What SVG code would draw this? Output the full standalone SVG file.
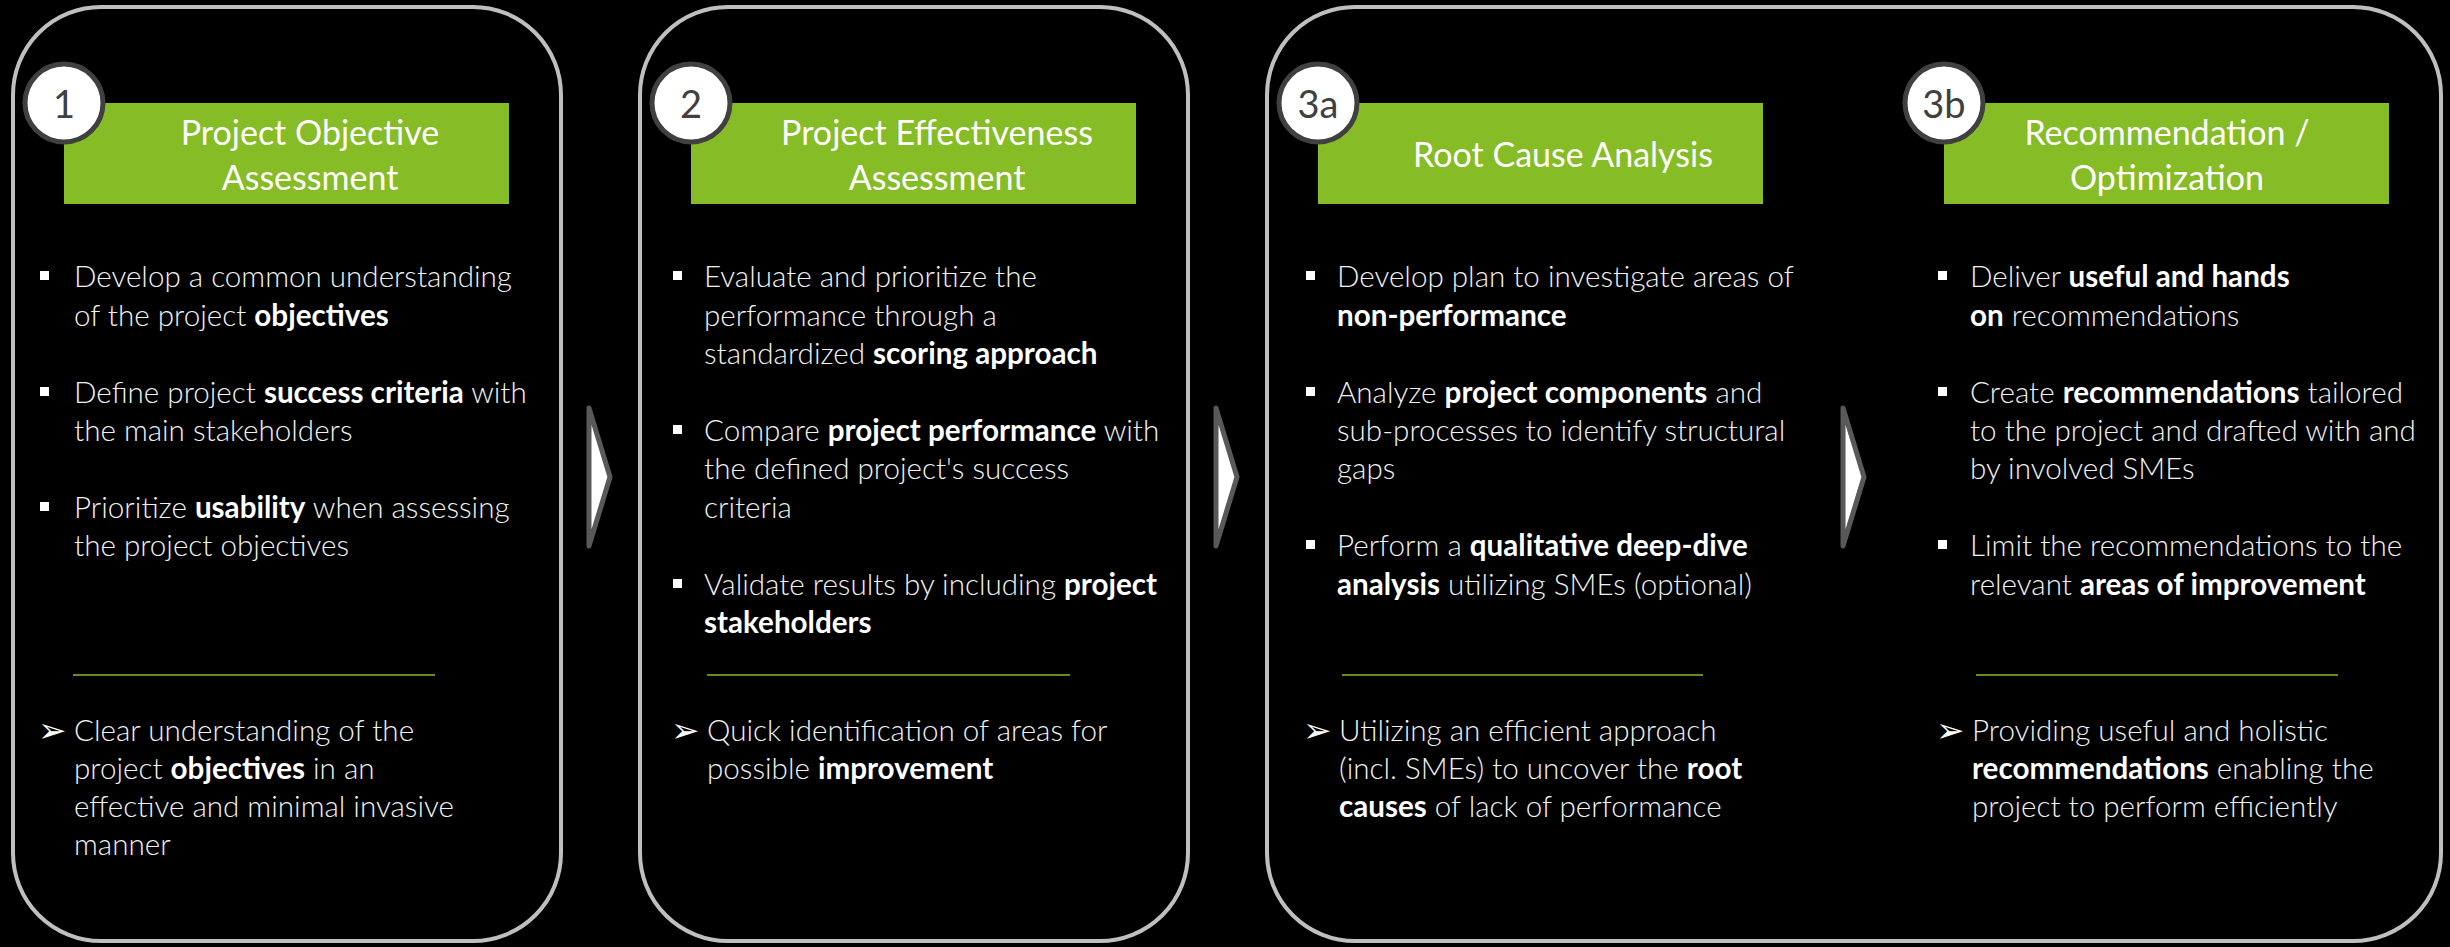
<svg xmlns="http://www.w3.org/2000/svg" width="2450" height="947" viewBox="0 0 2450 947">
<defs>
<style>
.panel{fill:#000;stroke:#bfbfbf;stroke-width:4}
.hdr{fill:#86bc25}
.num{fill:#fff;stroke:#404040;stroke-width:5}
.numt{font-family:Lato,"Open Sans",sans-serif;font-size:38px;fill:#404040;text-anchor:middle}
.ttl{font-family:Lato,"Open Sans",sans-serif;font-size:34px;fill:#fff;text-anchor:middle}
.body{font-family:Lato,"Open Sans",sans-serif;font-size:29.6px;fill:#f2f2f2;font-weight:300}
.b{font-weight:700;fill:#fff}
.sq{fill:#fff}
.arw{font-family:"DejaVu Sans",sans-serif;font-size:34px;fill:#fff}
.div{stroke:#86bc25;stroke-width:1.5}
.chev{fill:#fff;stroke:#595959;stroke-width:5;stroke-linejoin:round}
</style>
</defs>
<rect x="0" y="0" width="2450" height="947" fill="#000"/>

<g id="panel1">
<rect class="panel" x="13" y="7" width="548" height="934" rx="88" ry="88"/>
<rect class="hdr" x="64" y="103" width="445" height="101"/>
<circle class="num" cx="64" cy="103" r="39"/>
<text class="numt" x="64" y="118">1</text>
<text class="ttl" x="310" y="145">Project Objective</text>
<text class="ttl" x="310" y="190">Assessment</text>
<rect class="sq" x="40" y="271" width="9" height="9"/>
<rect class="sq" x="40" y="387" width="9" height="9"/>
<rect class="sq" x="40" y="502" width="9" height="9"/>
<text class="body" x="74" y="287">Develop a common understanding</text>
<text class="body" x="74" y="326">of the project <tspan class="b">objectives</tspan></text>
<text class="body" x="74" y="403">Define project <tspan class="b">success criteria</tspan> with</text>
<text class="body" x="74" y="441">the main stakeholders</text>
<text class="body" x="74" y="518">Prioritize <tspan class="b">usability</tspan> when assessing</text>
<text class="body" x="74" y="556">the project objectives</text>
<line class="div" x1="73" y1="675" x2="435" y2="675"/>
<text class="arw" x="38" y="742">➢</text>
<text class="body" x="74" y="741">Clear understanding of the</text>
<text class="body" x="74" y="779">project <tspan class="b">objectives</tspan> in an</text>
<text class="body" x="74" y="817">effective and minimal invasive</text>
<text class="body" x="74" y="855">manner</text>
</g>

<g id="panel2">
<rect class="panel" x="640" y="7" width="548" height="934" rx="88" ry="88"/>
<rect class="hdr" x="691" y="103" width="445" height="101"/>
<circle class="num" cx="691" cy="103" r="39"/>
<text class="numt" x="691" y="118">2</text>
<text class="ttl" x="937" y="145">Project Effectiveness</text>
<text class="ttl" x="937" y="190">Assessment</text>
<rect class="sq" x="673" y="271" width="9" height="9"/>
<rect class="sq" x="673" y="425" width="9" height="9"/>
<rect class="sq" x="673" y="579" width="9" height="9"/>
<text class="body" x="704" y="287">Evaluate and prioritize the</text>
<text class="body" x="704" y="326">performance through a</text>
<text class="body" x="704" y="364">standardized <tspan class="b">scoring approach</tspan></text>
<text class="body" x="704" y="441">Compare <tspan class="b">project performance</tspan> with</text>
<text class="body" x="704" y="479">the defined project's success</text>
<text class="body" x="704" y="518">criteria</text>
<text class="body" x="704" y="595">Validate results by including <tspan class="b">project</tspan></text>
<text class="body" x="704" y="633"><tspan class="b">stakeholders</tspan></text>
<line class="div" x1="707" y1="675" x2="1070" y2="675"/>
<text class="arw" x="671" y="742">➢</text>
<text class="body" x="707" y="741">Quick identification of areas for</text>
<text class="body" x="707" y="779">possible <tspan class="b">improvement</tspan></text>
</g>

<g id="panel3">
<rect class="panel" x="1267" y="7" width="1174" height="934" rx="88" ry="88"/>
</g>

<g id="step3a">
<rect class="hdr" x="1318" y="103" width="445" height="101"/>
<circle class="num" cx="1318" cy="103" r="39"/>
<text class="numt" x="1318" y="118">3a</text>
<text class="ttl" x="1563" y="167">Root Cause Analysis</text>
<rect class="sq" x="1306" y="271" width="9" height="9"/>
<rect class="sq" x="1306" y="387" width="9" height="9"/>
<rect class="sq" x="1306" y="540" width="9" height="9"/>
<text class="body" x="1337" y="287">Develop plan to investigate areas of</text>
<text class="body" x="1337" y="326"><tspan class="b">non-performance</tspan></text>
<text class="body" x="1337" y="403">Analyze <tspan class="b">project components</tspan> and</text>
<text class="body" x="1337" y="441">sub-processes to identify structural</text>
<text class="body" x="1337" y="479">gaps</text>
<text class="body" x="1337" y="556">Perform a <tspan class="b">qualitative deep-dive</tspan></text>
<text class="body" x="1337" y="595"><tspan class="b">analysis</tspan> utilizing SMEs (optional)</text>
<line class="div" x1="1342" y1="675" x2="1703" y2="675"/>
<text class="arw" x="1303" y="742">➢</text>
<text class="body" x="1339" y="741">Utilizing an efficient approach</text>
<text class="body" x="1339" y="779">(incl. SMEs) to uncover the <tspan class="b">root</tspan></text>
<text class="body" x="1339" y="817"><tspan class="b">causes</tspan> of lack of performance</text>
</g>

<g id="step3b">
<rect class="hdr" x="1944" y="103" width="445" height="101"/>
<circle class="num" cx="1944" cy="103" r="39"/>
<text class="numt" x="1944" y="118">3b</text>
<text class="ttl" x="2167" y="145">Recommendation /</text>
<text class="ttl" x="2167" y="190">Optimization</text>
<rect class="sq" x="1938" y="271" width="9" height="9"/>
<rect class="sq" x="1938" y="387" width="9" height="9"/>
<rect class="sq" x="1938" y="540" width="9" height="9"/>
<text class="body" x="1970" y="287">Deliver <tspan class="b">useful and hands</tspan></text>
<text class="body" x="1970" y="326"><tspan class="b">on</tspan> recommendations</text>
<text class="body" x="1970" y="403">Create <tspan class="b">recommendations</tspan> tailored</text>
<text class="body" x="1970" y="441">to the project and drafted with and</text>
<text class="body" x="1970" y="479">by involved SMEs</text>
<text class="body" x="1970" y="556">Limit the recommendations to the</text>
<text class="body" x="1970" y="595">relevant <tspan class="b">areas of improvement</tspan></text>
<line class="div" x1="1976" y1="675" x2="2338" y2="675"/>
<text class="arw" x="1936" y="742">➢</text>
<text class="body" x="1972" y="741">Providing useful and holistic</text>
<text class="body" x="1972" y="779"><tspan class="b">recommendations</tspan> enabling the</text>
<text class="body" x="1972" y="817">project to perform efficiently</text>
</g>

<g id="connectors">
<polygon class="chev" points="589,408 610,477 589,546"/>
<polygon class="chev" points="1216,408 1237,477 1216,546"/>
<polygon class="chev" points="1843,408 1864,477 1843,546"/>
</g>
</svg>
